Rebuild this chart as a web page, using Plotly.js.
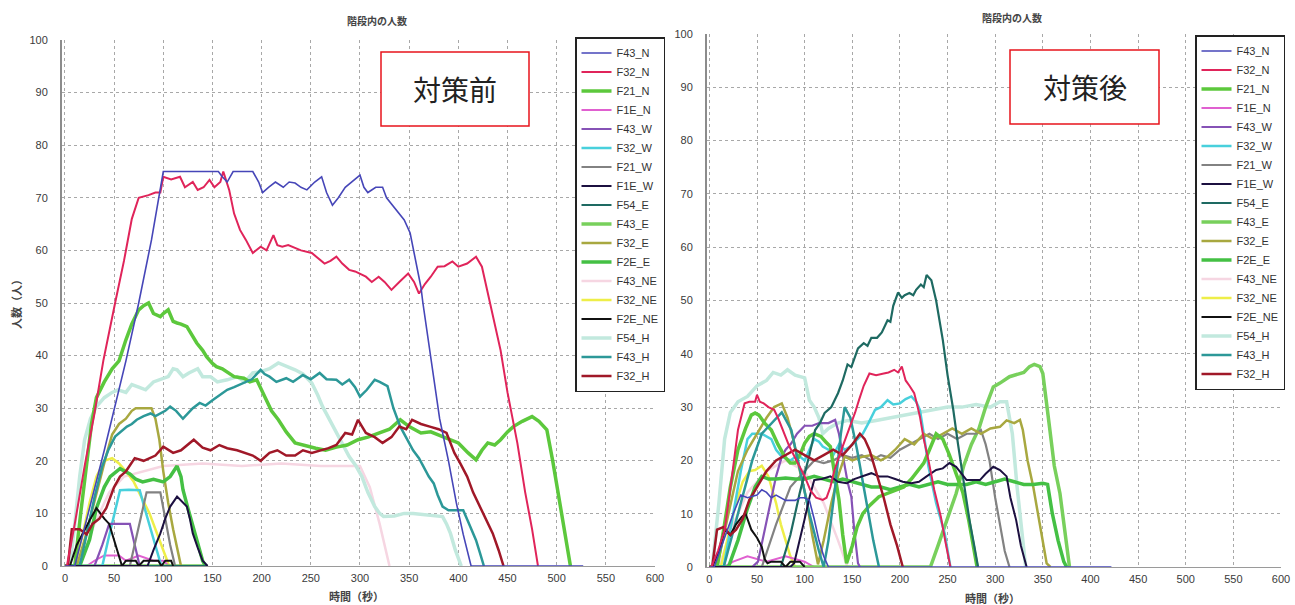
<!DOCTYPE html>
<html>
<head>
<meta charset="utf-8">
<script src="https://cdn.plot.ly/plotly-3.0.1.min.js"></script>
<style>
  html, body { margin: 0; padding: 0; background: #fff; }
  #chart { width: 1295px; height: 605px; }
</style>
</head>
<body>
<div id="chart"></div>
<script>
// Stairwell occupancy over time, before (pre_) and after (post_) the countermeasure.
// Each series is a list of [time (s), people] points.

const SERIES = ['F43_N','F32_N','F21_N','F1E_N','F43_W','F32_W','F21_W','F1E_W','F54_E',
                'F43_E','F32_E','F2E_E','F43_NE','F32_NE','F2E_NE','F54_H','F43_H','F32_H'];

const X_TICKS = [0,50,100,150,200,250,300,350,400,450,500,550,600];
const Y_TICKS = [0,10,20,30,40,50,60,70,80,90,100];

// ---------- before ----------
const pre_F43_N = [[0,0],[10,0],[25,11],[40,22],[62,39],[75,50],[88,62],[100,75],[113,75],[156,75],[160,74],[165,73],[171,75],[191,75],[197,73],[201,71],[207,72],[214,73],[222,72],[228,73],[234,72.8],[240,72],[246,71.5],[254,73],[261,74],[266,71],[272,68.6],[278,70],[285,72],[292,73],[300,74.3],[304,72],[308,71],[316,72],[323,72],[327,70],[336,68],[345,65.8],[351,63.3],[357,58],[362,53],[364,50],[372,40],[381,28],[390,20],[398,12],[405,6],[413,0],[527,0]];
const pre_F32_N = [[0,0],[2,0],[10,8],[20,19],[30,29],[39,39],[51,50],[60,58],[68,66],[75,70],[85,70.5],[92,71],[97,71],[100,74],[108,73.5],[117,74],[122,72],[130,73],[135,71.5],[141,72],[147,73.4],[152,72],[158,73],[161,75],[167,71.5],[172,67],[178,63.9],[184,62],[191,59.5],[199,60.7],[205,60],[212,62.9],[216,61],[221,60.7],[227,61],[234,60.5],[240,60],[251,59.5],[257,58.5],[264,57.5],[270,58],[276,58.8],[282,57.5],[289,56.3],[295,56],[306,55],[312,54],[319,55],[325,54],[332,52.5],[340,54],[349,55.6],[355,54],[360,51.8],[366,53.6],[372,55],[379,56.9],[386,57],[394,57.9],[400,56.9],[409,57.5],[418,58.8],[424,56.9],[430,51.8],[436,47],[443,41],[450,33],[460,23.4],[468,14],[475,7],[481,0]];
const pre_F21_N = [[0,0],[10,0],[16,10],[22,20],[27,27],[32,32],[40,35],[48,37.5],[55,39],[62,43],[68,46],[75,48.7],[80,49.5],[85,50],[90,48],[97,47.4],[100,48],[105,48.7],[110,46.5],[114,46.2],[118,46],[124,45.5],[130,43.5],[134,42.4],[140,41],[144,39.8],[150,38.5],[154,37.9],[160,37.5],[165,36.9],[172,36],[182,35.7],[188,35],[195,35.4],[200,33.5],[204,31.9],[210,29.5],[217,27.8],[225,25.5],[234,23.4],[245,22.8],[255,22.4],[265,22],[276,22.6],[287,23],[298,24],[308,24.5],[319,25.3],[330,26],[341,27.8],[350,26.5],[362,25.3],[372,25.5],[384,24.6],[392,24],[400,23.4],[410,21.5],[418,20.2],[424,22],[430,23.4],[437,23],[443,24],[450,25.5],[456,26.5],[465,27.5],[475,28.4],[482,27.5],[490,25.9],[496,20],[503,12.5],[509,6],[514,0]];
const pre_F1E_N = [[0,0],[22,0],[30,1],[40,2],[55,2],[62,1],[75,2],[90,1],[100,1],[106,0]];
const pre_F43_W = [[0,0],[30,0],[38,4],[45,8],[56,8],[66,8],[71,4],[76,0]];
const pre_F32_W = [[0,0],[38,0],[44,5],[50,10],[56,14.4],[65,14.5],[76,14.4],[81,11],[87,7],[93,3],[98,0]];
const pre_F21_W = [[0,0],[66,0],[72,5],[78,10],[83,14],[97,14],[102,9],[107,4],[112,0]];
const pre_F1E_W = [[0,0],[84,0],[90,3],[97,6.2],[102,9],[107,11.3],[114,13.2],[120,12],[124,11.3],[127,9],[130,6.2],[135,3.5],[140,1],[145,0]];
const pre_F54_E = [[0,0],[145,0]];
const pre_F43_E = [[0,0],[145,0]];
const pre_F32_E = [[0,0],[12,0],[20,5],[28,11],[35,16],[42,21],[48,25],[55,27],[62,28],[68,29.5],[72,30],[80,30],[88,30],[92,28],[96,24],[100,18],[105,12],[110,7],[114,3.5],[118,0]];
const pre_F2E_E = [[0,0],[15,0],[25,5],[32,11],[40,15],[46,17],[56,18.5],[62,18],[66,17.5],[72,16.5],[79,16],[90,16.5],[100,16],[107,17],[114,19],[118,17],[120,14.5],[125,11],[130,7.5],[135,4],[140,1],[143,0]];
const pre_F43_NE = [[0,0],[15,0],[30,8],[45,14],[60,17],[80,18],[100,19],[140,19.5],[180,19],[220,19.5],[260,19],[300,19],[310,15],[320,8],[330,0]];
const pre_F32_NE = [[0,0],[10,0],[18,6],[25,12],[32,17],[40,20],[48,20.5],[55,19.5],[62,18],[70,16],[78,13],[86,10],[94,6],[100,3],[106,0]];
const pre_F2E_NE = [[0,0],[5,0],[12,4],[20,7],[26,9],[32,11],[36,10],[40,9],[45,8],[50,5],[55,2],[58,0],[62,1],[72,1],[75,0],[80,1],[95,1],[98,0],[102,1],[108,1],[110,0]];
const pre_F54_H = [[0,0],[5,0],[10,8],[15,17],[20,24],[26,28],[32,30.3],[40,32],[48,33],[54,33.5],[62,33],[68,34.5],[75,34],[82,33.5],[90,35],[97,35.4],[105,36],[110,37.5],[114,37.3],[120,36],[126,36.7],[135,37.5],[140,36],[148,36],[155,35],[165,35.4],[175,36],[183,35],[191,36.7],[200,37],[208,37.5],[217,38.6],[225,38],[234,37.3],[242,36.5],[251,34.8],[257,32.5],[262,30.3],[270,27.5],[276,25.3],[283,23],[289,20.8],[296,19],[302,17],[308,14],[315,11.3],[320,10],[324,9.4],[335,9.5],[345,10],[354,10],[365,9.8],[375,9.5],[384,9.4],[388,8],[392,6.2],[397,3],[403,0]];
const pre_F43_H = [[0,0],[15,0],[22,6],[30,13],[38,19],[44,22],[51,24.6],[57,25.5],[63,26.5],[68,27],[73,27.8],[80,28.5],[87,29],[92,28.5],[97,29],[102,29.5],[107,30.3],[113,29.5],[120,28],[125,29],[130,30],[137,31],[143,30.5],[150,31.5],[157,32.5],[165,33.5],[172,34],[182,34.8],[190,35.5],[199,37.3],[203,36.5],[208,36],[215,35],[225,35.7],[232,35],[242,36.3],[250,35.5],[259,36.7],[266,35.5],[276,35.4],[282,34.5],[289,35.4],[295,34],[300,32.2],[307,33.5],[315,35.4],[320,35],[328,34.2],[334,30],[341,26.5],[347,24.5],[354,22],[360,20.5],[366,18.3],[370,17],[375,15.7],[379,13.5],[384,11.3],[390,10.6],[398,10.6],[405,10.6],[411,8],[418,4.9],[422,2.5],[426,0]];
const pre_F32_H = [[0,0],[3,0],[7,7],[15,7],[22,6],[28,8],[35,9],[42,11],[50,15],[56,17],[62,18],[71,20.5],[80,20],[92,21],[100,22.7],[110,21.5],[118,22],[125,23],[131,24],[140,22.5],[148,22],[157,23],[165,22.4],[175,22],[182,21.5],[191,21],[199,20],[208,21.5],[216,22],[225,21],[234,21],[242,22],[251,21.5],[260,22],[268,22.4],[276,23],[285,25.3],[292,25],[298,27.8],[306,25.3],[315,24.5],[323,23.4],[332,24.5],[340,26.5],[347,26],[353,27.8],[362,27],[371,26.5],[380,26],[388,25.3],[396,21.5],[402,19.5],[409,17],[415,14],[422,11.3],[428,9],[435,6.2],[441,3],[446,0]];

// ---------- after ----------
const post_F43_N = [[0,0],[5,0],[15,5],[25,10],[33,13.5],[40,13],[50,13.5],[55,14.5],[60,14],[65,13],[70,13.5],[80,12.5],[90,12.5],[95,13],[100,13],[105,12.5],[110,9],[115,5],[120,2],[125,0],[422,0]];
const post_F32_N = [[0,0],[2,0],[9,3],[16,7],[23,16],[30,25.7],[37,30.7],[42,31],[48,31],[50,32.3],[53,31],[57,30.7],[62,30],[68,29.5],[72,28],[76,26.3],[80,24.5],[84,22.6],[90,20.5],[95,18.8],[100,17],[106,14.4],[112,13],[119,12.6],[123,13],[127,15],[131,18],[136,20.7],[142,23.5],[148,26.3],[153,29],[157,31.3],[162,34],[168,36.3],[175,36],[183,36.3],[188,36.5],[194,37],[198,36.5],[202,37.6],[206,35],[210,34],[215,32.6],[218,30.5],[221,28.2],[225,24],[230,20],[236,14.5],[243,9.4],[248,4.5],[253,0]];
const post_F21_N = [[0,0],[8,0],[15,7],[22,15],[30,22],[38,26],[44,28.5],[48,28.9],[52,28.5],[58,27],[65,25.7],[72,23],[79,20.7],[85,19.5],[90,19.5],[95,21],[100,23.2],[105,24.5],[110,25],[117,24.5],[122,23.5],[127,22.6],[131,18],[136,12.6],[140,6],[144,0.7],[150,4],[155,7.5],[161,10],[168,11.5],[178,13.2],[190,14],[204,15],[212,16.5],[218,18],[225,19.5],[231,22],[238,25],[245,24],[252,21],[260,17],[266,14],[272,9],[277,4],[281,0]];
const post_F1E_N = [[0,0],[15,0],[25,1],[40,2],[60,1],[80,2],[100,1],[110,0]];
const post_F43_W = [[0,0],[45,0],[51,1],[58,7],[65,13],[70,17],[76,20.7],[80,22],[86,23.2],[92,25],[100,26.5],[108,26.5],[115,27],[125,27],[132,27.6],[136,25],[141,20],[145,16],[149,13.2],[152,7],[156,0.7],[158,0]];
const post_F32_W = [[0,0],[15,0],[25,10],[33,18],[40,24],[45,25],[55,25],[65,24],[70,22],[76,20.7],[85,20],[93,21],[100,20],[105,22],[110,24],[115,23.5],[119,22.6],[125,22],[130,21],[136,23],[142,22],[148,22.6],[155,24],[161,25],[167,27],[174,29.5],[180,30],[187,31.3],[193,30.5],[200,30.7],[206,31.5],[212,32],[217,31],[221,29.5],[225,25],[230,18.8],[238,12],[247,6.3],[253,0]];
const post_F21_W = [[0,0],[55,0],[70,8],[85,15],[100,18],[110,20],[120,19.5],[130,20],[140,21],[150,20.5],[160,21],[170,20],[180,21],[190,20.5],[200,22],[210,23],[220,24],[231,25],[240,24],[250,25],[260,24],[270,25],[280,25],[285,25.7],[290,23],[294,20],[300,13],[305,7.6],[310,3],[315,0]];
const post_F1E_W = [[0,0],[85,0],[89,0.7],[95,5],[100,9],[105,13],[110,16.3],[118,16.5],[127,17],[135,16],[144,15.7],[152,16.5],[160,17],[170,17.6],[178,17],[187,17],[195,16.5],[203,16],[212,15.7],[220,16],[228,17],[238,18.2],[245,18.5],[252,19.5],[259,18.8],[265,17.5],[270,16.3],[284,16.3],[290,17.5],[298,18.8],[305,18.2],[312,17],[316,13],[322,8.8],[327,4],[333,0]];
const post_F54_E = [[0,0],[75,0],[85,6],[95,14],[105,21],[111,25.7],[116,27],[121,28.9],[128,30],[135,32.6],[140,35],[145,38],[149,37.5],[152,39],[156,41],[162,42],[166,41.5],[170,43],[176,43],[181,44],[187,46.3],[190,46],[193,49],[198,51.5],[202,50.5],[205,51],[210,51.4],[214,51],[217,52],[222,53],[225,52.5],[228,54.8],[233,53.8],[238,50],[245,42.6],[250,36],[256,29.5],[261,23],[266,17],[273,8.8],[278,4],[282,0]];
const post_F43_E = [[0,0],[232,0],[240,4],[250,9],[259,13.8],[267,19],[275,23],[283,26],[290,30],[298,33.8],[305,34.5],[315,35.7],[322,36],[330,36.5],[336,37.6],[341,38],[347,37.6],[350,36.3],[357,26.3],[362,19],[368,13.8],[373,7],[378,0]];
const post_F32_E = [[0,0],[8,0],[20,10],[30,18],[40,22],[50,25],[60,28],[68,30],[76,30.7],[82,28],[88,24],[95,18],[102,12.6],[108,6],[114,0.5],[120,5],[128,12],[135,17],[142,20.7],[150,20],[161,20.7],[170,21],[180,20],[187,20.7],[195,22],[205,24],[215,23],[225,25],[235,24],[245,25],[255,26],[265,25],[275,26],[285,25],[295,26],[305,26.3],[312,27.5],[320,27],[326,27.6],[329,25.7],[334,20],[340,15],[347,8],[354,0.7],[358,0]];
const post_F2E_E = [[0,0],[20,0],[30,5],[40,11],[48,15],[55,17],[62,16.5],[70,16.5],[80,16.7],[90,16.5],[100,16.5],[110,17],[120,16.5],[130,16],[140,16.5],[150,16],[160,15.5],[170,15],[180,15],[190,14.5],[200,15],[210,15.5],[220,15],[230,15.5],[240,16],[250,15.5],[260,15.5],[270,15.5],[280,16],[290,15.5],[300,16],[310,16.5],[320,16],[330,15.5],[340,15.5],[350,15.7],[355,15.5],[360,10],[366,5],[372,1],[375,0]];
const post_F43_NE = [[0,0],[10,0],[25,8],[40,14],[60,18],[80,20],[100,18],[120,12],[135,5],[145,0]];
const post_F32_NE = [[0,0],[12,0],[20,6],[28,12],[35,16],[42,18],[48,18.2],[55,19],[62,17],[70,12],[75,8],[79,5.7],[85,2],[90,0]];
const post_F2E_NE = [[0,0],[3,0],[10,3],[16,7],[22,6],[28,8],[34,9.4],[38,10],[44,7],[50,5.5],[55,3.8],[58,1.5],[61,0.7],[65,1],[75,1],[80,0],[85,1],[95,1],[100,0]];
const post_F54_H = [[0,0],[3,0],[10,12],[16,24],[22,29],[30,31],[40,32],[50,34],[60,35],[67,36.5],[75,36],[82,37],[90,36],[100,35.5],[105,31.3],[110,30],[115,28],[119,25],[125,26],[135,27],[145,27.5],[160,27],[175,27.5],[190,28],[205,28.5],[220,29],[235,29.5],[250,30],[265,30],[280,30.5],[295,30],[305,31],[312,31],[318,25],[323,15],[328,6],[332,0]];
const post_F43_H = [[0,0],[15,0],[30,10],[45,20],[55,25],[65,27],[76,29],[86,25.7],[95,18],[105,10],[115,3],[120,0],[125,5],[132,15],[138,25],[142,30],[148,28],[155,22],[165,12],[172,5],[178,0]];
const post_F32_H = [[0,0],[3,0],[8,7],[15,7.5],[22,6],[28,7],[35,9],[42,12.6],[50,15],[60,18],[70,20],[80,21],[90,22],[100,21],[110,20],[120,21],[130,22],[140,21],[150,23],[158,25],[163,24],[168,22],[175,18],[183,13],[190,8],[197,4],[203,0]];

const PRE = {F43_N:pre_F43_N,F32_N:pre_F32_N,F21_N:pre_F21_N,F1E_N:pre_F1E_N,F43_W:pre_F43_W,F32_W:pre_F32_W,
  F21_W:pre_F21_W,F1E_W:pre_F1E_W,F54_E:pre_F54_E,F43_E:pre_F43_E,F32_E:pre_F32_E,F2E_E:pre_F2E_E,
  F43_NE:pre_F43_NE,F32_NE:pre_F32_NE,F2E_NE:pre_F2E_NE,F54_H:pre_F54_H,F43_H:pre_F43_H,F32_H:pre_F32_H};
const POST = {F43_N:post_F43_N,F32_N:post_F32_N,F21_N:post_F21_N,F1E_N:post_F1E_N,F43_W:post_F43_W,F32_W:post_F32_W,
  F21_W:post_F21_W,F1E_W:post_F1E_W,F54_E:post_F54_E,F43_E:post_F43_E,F32_E:post_F32_E,F2E_E:post_F2E_E,
  F43_NE:post_F43_NE,F32_NE:post_F32_NE,F2E_NE:post_F2E_NE,F54_H:post_F54_H,F43_H:post_F43_H,F32_H:post_F32_H};

// line styles per stair
const STYLE = {
  F43_N:['#4646b8',1.6], F32_N:['#e0245a',2], F21_N:['#5cc83c',3.5], F1E_N:['#e060d0',2],
  F43_W:['#8652b6',2.2], F32_W:['#48d0dc',2.5], F21_W:['#828282',2.2], F1E_W:['#1c1040',2],
  F54_E:['#1e6a62',2.2], F43_E:['#78d05c',3.5], F32_E:['#a8a840',2.5], F2E_E:['#44c044',3.5],
  F43_NE:['#f6d6e2',2.5], F32_NE:['#eeee48',2.5], F2E_NE:['#111111',2], F54_H:['#c2e9de',3.5],
  F43_H:['#2c9898',2.5], F32_H:['#a01828',2.5]
};
// pale lines are drawn first so the darker ones sit on top
const DRAW_ORDER = ['F43_NE','F54_H','F32_NE','F1E_N','F43_E','F32_W','F43_W','F21_W','F32_E','F2E_E','F21_N',
  'F43_H','F54_E','F1E_W','F2E_NE','F32_H','F32_N','F43_N'];

const traces = [];
function addPanel(table, xa, ya, legendId) {
  DRAW_ORDER.forEach(name => {
    const pts = table[name];
    traces.push({
      type: 'scatter', mode: 'lines', name: name,
      x: pts.map(p => p[0]), y: pts.map(p => p[1]),
      xaxis: xa, yaxis: ya, legend: legendId,
      legendrank: SERIES.indexOf(name) + 1,
      line: {color: STYLE[name][0], width: STYLE[name][1]},
      hoverinfo: 'skip'
    });
  });
}
addPanel(PRE, 'x', 'y', 'legend');
addPanel(POST, 'x2', 'y2', 'legend2');

const W = 1295, H = 605;
const px = v => v / W, py = v => 1 - v / H;
const TICKFONT = {family: 'Liberation Sans, Arial, sans-serif', size: 11, color: '#3a3a3a'};

function xAxis(domain, anchor, lo) {
  return {domain: domain, anchor: anchor, range: [lo, 600], tickvals: X_TICKS,
    showgrid: true, gridcolor: '#a8a8a8', griddash: 'dot', gridwidth: 1,
    showline: true, linecolor: '#9a9a9a', linewidth: 1, ticks: '', zeroline: false,
    tickfont: TICKFONT, ticklabelstandoff: 2, fixedrange: true};
}
function yAxis(domain, anchor) {
  return {domain: domain, anchor: anchor, range: [0, 100], tickvals: Y_TICKS,
    showgrid: true, gridcolor: '#a8a8a8', griddash: 'dot', gridwidth: 1,
    showline: true, linecolor: '#8c8c8c', linewidth: 2, ticks: '', zeroline: false,
    tickfont: TICKFONT, ticklabelstandoff: 10, fixedrange: true};
}
function legendBox(x, y) {
  return {x: px(x), y: py(y), xanchor: 'left', yanchor: 'top', bgcolor: '#ffffff',
    bordercolor: '#222', borderwidth: 1.5, itemwidth: 30, tracegroupgap: 0,
    font: {family: 'Liberation Sans, Arial, sans-serif', size: 11, color: '#333'}, traceorder: 'normal'};
}

const CJK = 'Noto Sans CJK JP, sans-serif';
function label(text, x, y, size, extra) {
  return Object.assign({text: text, x: px(x), y: py(y), xref: 'paper', yref: 'paper',
    xanchor: 'center', yanchor: 'middle', showarrow: false,
    font: {family: CJK, size: size, color: '#444'}}, extra || {});
}

const layout = {
  width: W, height: H, margin: {l: 0, r: 0, t: 0, b: 0},
  paper_bgcolor: '#fff', plot_bgcolor: '#fff', showlegend: true,
  xaxis: xAxis([px(62), px(655)], 'y', -3),
  yaxis: yAxis([py(566), py(40)], 'x'),
  xaxis2: xAxis([px(707), px(1281)], 'y2', -2.5),
  yaxis2: yAxis([py(567), py(34)], 'x2'),
  legend: legendBox(575, 37),
  legend2: legendBox(1195, 35),
  shapes: [
    {type: 'rect', xref: 'paper', yref: 'paper', x0: px(381), x1: px(529), y0: py(126), y1: py(52),
     line: {color: '#e8141c', width: 1.5}, fillcolor: '#fff', layer: 'above'},
    {type: 'rect', xref: 'paper', yref: 'paper', x0: px(1010), x1: px(1159), y0: py(124), y1: py(50),
     line: {color: '#e8141c', width: 1.5}, fillcolor: '#fff', layer: 'above'}
  ],
  annotations: [
    label('<b>階段内の人数</b>', 377, 21, 10),
    label('<b>階段内の人数</b>', 1012, 18, 10),
    label('<b>時間（秒）</b>', 356, 596, 11),
    label('<b>時間（秒）</b>', 992, 598, 11),
    label('<b>人数（人）</b>', 16, 302, 11, {textangle: -90}),
    label('対策前', 455, 89, 28, {font: {family: CJK, size: 28, color: '#222'}}),
    label('対策後', 1085, 87, 28, {font: {family: CJK, size: 28, color: '#222'}})
  ]
};

Plotly.newPlot('chart', traces, layout, {staticPlot: true, displayModeBar: false});
</script>
</body>
</html>
